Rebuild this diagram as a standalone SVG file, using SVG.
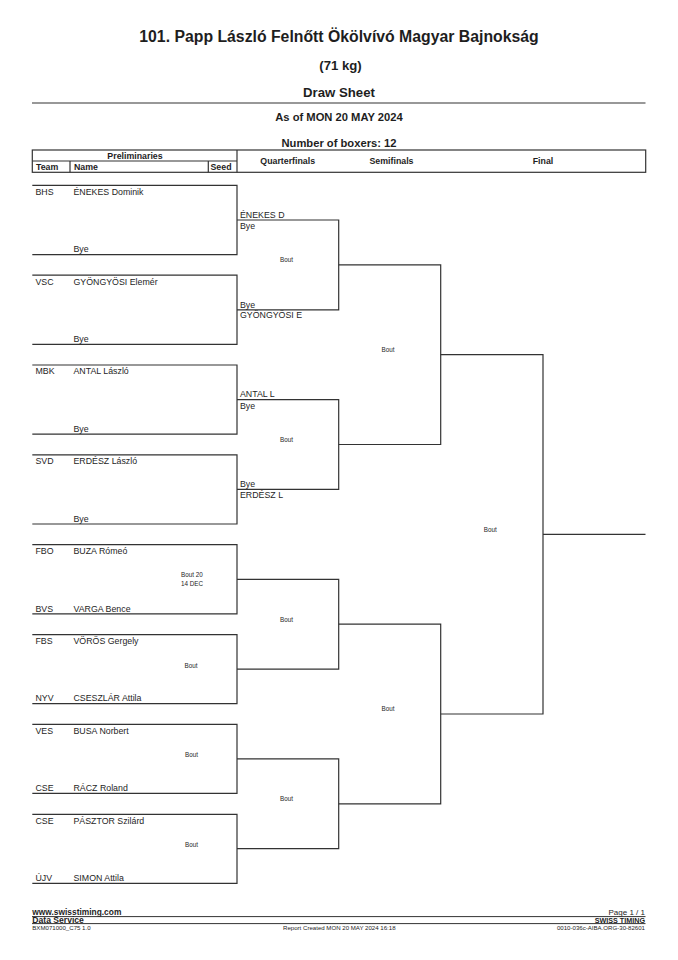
<svg xmlns="http://www.w3.org/2000/svg" width="678" height="960" viewBox="0 0 678 960">
<style>
text{font-family:"Liberation Sans",Arial,sans-serif;fill:#1e1e1e}
.b{font-weight:bold}
.t{font-size:15.8px;font-weight:bold;text-anchor:middle}
.s{font-size:13.2px;font-weight:bold;text-anchor:middle}
.m{font-size:11.2px;font-weight:bold;text-anchor:middle}
.h{font-size:8.8px;font-weight:bold}
.c{text-anchor:middle}
.n{font-size:8.8px}
.bt{font-size:6.3px}
.f{font-size:6.1px}
.ln{stroke:#333;stroke-width:1.2;fill:none}
</style>
<rect width="678" height="960" fill="#fff"/>
<g id="header">
<text class="t" x="339" y="42">101. Papp László Felnőtt Ökölvívó Magyar Bajnokság</text>
<text class="s" x="340.5" y="70">(71 kg)</text>
<text class="s" x="339" y="96.5">Draw Sheet</text>
<line class="ln" x1="32" y1="103" x2="645.5" y2="103"/>
<text class="m" x="339" y="121">As of MON 20 MAY 2024</text>
<text class="m" x="339" y="146.5">Number of boxers: 12</text>
</g>
<g id="table-header">
<rect class="ln" x="32.3" y="150" width="613.4" height="22.3"/>
<line class="ln" x1="32.3" y1="161" x2="237" y2="161"/>
<line class="ln" x1="237" y1="150" x2="237" y2="172.3"/>
<line class="ln" x1="70" y1="161" x2="70" y2="172.3"/>
<line class="ln" x1="208.3" y1="161" x2="208.3" y2="172.3"/>
<text class="h c" x="135" y="158.5">Preliminaries</text>
<text class="h" x="36" y="169.8">Team</text>
<text class="h" x="74" y="169.8">Name</text>
<text class="h" x="210.5" y="169.8">Seed</text>
<text class="h c" x="287.7" y="163.5">Quarterfinals</text>
<text class="h c" x="391.5" y="163.5">Semifinals</text>
<text class="h c" x="543" y="163.5">Final</text>
</g>
<g id="connectors" class="ln">
<path d="M32.3 185.3H237V254.6H32.3"/>
<path d="M32.3 275.2H237V344.4H32.3"/>
<path d="M32.3 365H237V434.2H32.3"/>
<path d="M32.3 454.9H237V524H32.3"/>
<path d="M32.3 544.7H237V613.8H32.3"/>
<path d="M32.3 634.6H237V703.6H32.3"/>
<path d="M32.3 724.4H237V793.4H32.3"/>
<path d="M32.3 814.3H237V883.3H32.3"/>
<path d="M237 220H338.7V309.8H237"/>
<path d="M237 399.6H338.7V489.4H237"/>
<path d="M237 579.3H338.7V669.1H237"/>
<path d="M237 758.9H338.7V848.7H237"/>
<path d="M338.7 264.9H440.7V444.5H338.7"/>
<path d="M338.7 624.2H440.7V803.8H338.7"/>
<path d="M440.7 354.7H543V714H440.7"/>
<path d="M543 534.4H645.5"/>
</g>
<g id="prelim-1">
<text class="n" x="35.5" y="194.6">BHS</text><text class="n" x="73.5" y="194.6">ÉNEKES Dominik</text>
<text class="n" x="73.5" y="252.3">Bye</text>
</g>
<g id="prelim-2">
<text class="n" x="35.5" y="284.5">VSC</text><text class="n" x="73.5" y="284.5">GYÖNGYÖSI Elemér</text>
<text class="n" x="73.5" y="342.1">Bye</text>
</g>
<g id="prelim-3">
<text class="n" x="35.5" y="374.3">MBK</text><text class="n" x="73.5" y="374.3">ANTAL László</text>
<text class="n" x="73.5" y="431.9">Bye</text>
</g>
<g id="prelim-4">
<text class="n" x="35.5" y="464.2">SVD</text><text class="n" x="73.5" y="464.2">ERDÉSZ László</text>
<text class="n" x="73.5" y="521.7">Bye</text>
</g>
<g id="prelim-5">
<text class="n" x="35.5" y="554">FBO</text><text class="n" x="73.5" y="554">BUZA Rómeó</text>
<text class="n" x="35.5" y="611.5">BVS</text><text class="n" x="73.5" y="611.5">VARGA Bence</text>
<text class="bt" x="181" y="577">Bout 20</text>
<text class="bt" x="181" y="585.5">14 DEC</text>
</g>
<g id="prelim-6">
<text class="n" x="35.5" y="643.9">FBS</text><text class="n" x="73.5" y="643.9">VÖRÖS Gergely</text>
<text class="n" x="35.5" y="701.3">NYV</text><text class="n" x="73.5" y="701.3">CSESZLÁR Attila</text>
<text class="bt c" x="191" y="667.5">Bout</text>
</g>
<g id="prelim-7">
<text class="n" x="35.5" y="733.7">VES</text><text class="n" x="73.5" y="733.7">BUSA Norbert</text>
<text class="n" x="35.5" y="791.1">CSE</text><text class="n" x="73.5" y="791.1">RÁCZ Roland</text>
<text class="bt c" x="191.5" y="757">Bout</text>
</g>
<g id="prelim-8">
<text class="n" x="35.5" y="823.6">CSE</text><text class="n" x="73.5" y="823.6">PÁSZTOR Szilárd</text>
<text class="n" x="35.5" y="881">ÚJV</text><text class="n" x="73.5" y="881">SIMON Attila</text>
<text class="bt c" x="191.5" y="847">Bout</text>
</g>
<g id="qf-1">
<text class="n" x="240" y="217.5">ÉNEKES D</text>
<text class="n" x="240" y="229">Bye</text>
<text class="n" x="240" y="307.5">Bye</text>
<text class="n" x="240" y="318">GYÖNGYÖSI E</text>
<text class="bt c" x="286.5" y="262">Bout</text>
</g>
<g id="qf-2">
<text class="n" x="240" y="397.2">ANTAL L</text>
<text class="n" x="240" y="408.5">Bye</text>
<text class="n" x="240" y="487.2">Bye</text>
<text class="n" x="240" y="497.5">ERDÉSZ L</text>
<text class="bt c" x="286.5" y="441.5">Bout</text>
</g>
<g id="qf-3"><text class="bt c" x="286.5" y="621.5">Bout</text></g>
<g id="qf-4"><text class="bt c" x="286.5" y="801">Bout</text></g>
<g id="sf-1"><text class="bt c" x="388" y="352">Bout</text></g>
<g id="sf-2"><text class="bt c" x="388" y="711">Bout</text></g>
<g id="final"><text class="bt c" x="490.3" y="531.5">Bout</text></g>
<g id="footer">
<text class="b" x="32.3" y="914.5" font-size="8.4">www.swisstiming.com</text>
<text x="645" y="914.5" font-size="8" text-anchor="end">Page 1 / 1</text>
<line x1="32" y1="916.6" x2="645.5" y2="916.6" stroke="#333" stroke-width="1"/>
<text class="b" x="32.3" y="922.6" font-size="8.6">Data Service</text>
<text class="b" x="645" y="922.6" font-size="7.2" text-anchor="end">SWISS TIMING</text>
<line x1="32" y1="923.6" x2="645.5" y2="923.6" stroke="#333" stroke-width="1"/>
<text class="f" x="32.3" y="929.6">BXM071000_C75 1.0</text>
<text class="f c" x="339.3" y="929.6">Report Created  MON 20 MAY 2024 16:18</text>
<text class="f" x="645" y="929.6" text-anchor="end">0010-036c-AIBA.ORG-30-82601</text>
</g>
</svg>
